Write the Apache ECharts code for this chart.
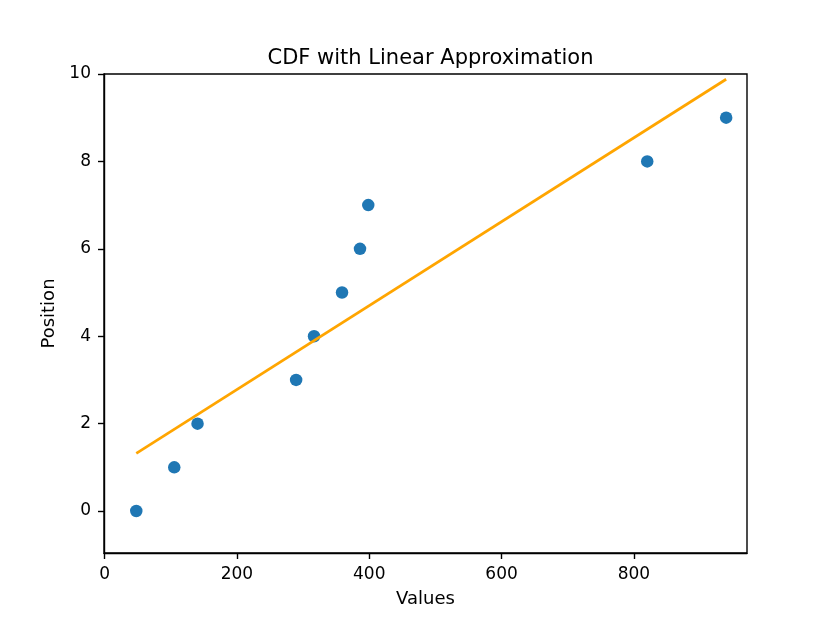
<!DOCTYPE html>
<html>
<head>
<meta charset="utf-8">
<script src="https://cdn.jsdelivr.net/npm/echarts@6/dist/echarts.min.js"></script>
<style>html,body{margin:0;padding:0;background:#fff}#c{width:830px;height:623px}</style>
</head>
<body>
<div id="c"></div>
<script>
const xValues = [47.8, 105.2, 140.4, 289.4, 316.5, 358.8, 386, 398.5, 820.2, 939.5];
const positions = [0, 1, 2, 3, 4, 5, 6, 7, 8, 9];
const fitX = [47.8, 939.5];
const fitY = [1.32, 9.88];
const xTicks = [0, 200, 400, 600, 800];
const yTicks = [0, 2, 4, 6, 8, 10];

const font = 'DejaVu Sans';
const chart = echarts.init(document.getElementById('c'));
chart.setOption({
  animation: false,
  backgroundColor: '#fff',
  textStyle: { fontFamily: font },
  title: {
    text: 'CDF with Linear Approximation',
    left: 425.5, textAlign: 'center', top: 43,
    textStyle: { fontFamily: font, fontSize: 21, fontWeight: 'normal', color: '#000' }
  },
  grid: { left: 104, right: 83, top: 74, bottom: 70, show: true, borderColor: '#000', borderWidth: 1.4, backgroundColor: 'transparent' },
  xAxis: {
    type: 'value', min: -1, max: 971,
    name: 'Values', nameLocation: 'middle', nameGap: 37,
    nameTextStyle: { fontFamily: font, fontSize: 18, color: '#000' },
    axisLine: { show: true, onZero: false, lineStyle: { color: '#000', width: 1.4 } },
    axisTick: { show: true, length: 6, inside: false, customValues: xTicks, lineStyle: { color: '#000', width: 1.4 } },
    axisLabel: { customValues: xTicks, margin: 13, fontFamily: font, fontSize: 17, color: '#000' },
    splitLine: { show: false }
  },
  yAxis: {
    type: 'value', min: -0.96, max: 10,
    name: 'Position', nameLocation: 'middle', nameGap: 44,
    nameTextStyle: { fontFamily: font, fontSize: 18, color: '#000' },
    axisLine: { show: true, onZero: false, lineStyle: { color: '#000', width: 1.4 } },
    axisTick: { show: true, length: 6, inside: false, customValues: yTicks, lineStyle: { color: '#000', width: 1.4 } },
    axisLabel: { customValues: yTicks, margin: 13, fontFamily: font, fontSize: 17, color: '#000', padding: [3, 0, 0, 0] },
    splitLine: { show: false }
  },
  series: [
    {
      type: 'scatter',
      data: xValues.map((x, i) => [x, positions[i]]),
      symbolSize: 12.5,
      itemStyle: { color: '#1f77b4', opacity: 1 },
      z: 2
    },
    {
      type: 'line',
      data: fitX.map((x, i) => [x, fitY[i]]),
      showSymbol: false,
      lineStyle: { color: '#FFA500', width: 2.7 },
      z: 3
    }
  ]
});
</script>
</body>
</html>
